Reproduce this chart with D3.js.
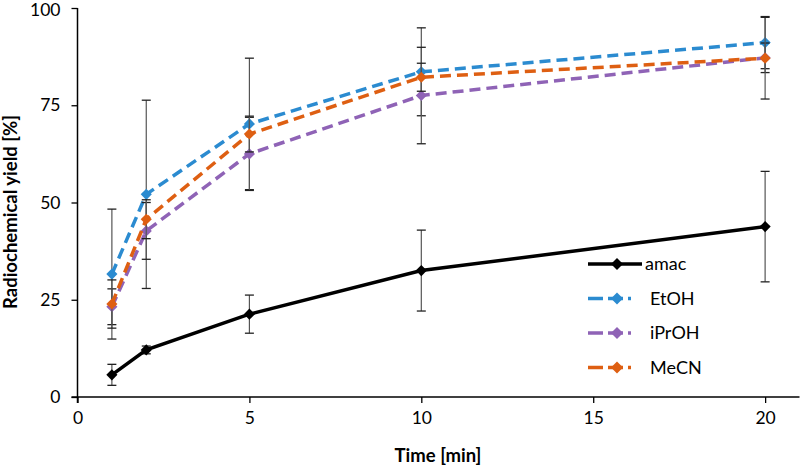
<!DOCTYPE html>
<html lang="en">
<head>
  <meta charset="UTF-8">
  <title>Radiochemical yield vs time</title>
  <script src="https://d3js.org/d3.v7.min.js"></script>
  <style>
    body { margin: 0; background: #fff; }
    svg { font-family: Lato, "Open Sans", sans-serif; display: block; }
  </style>
</head>
<body>
  <svg width="800" height="468"></svg>
  <script>
    const times = [1, 2, 5, 10, 20];
    const seriesNames = ["amac", "EtOH", "iPrOH", "MeCN"];
    const amacYield = [5.7, 12.1, 21.3, 32.5, 43.8];
    const amacErr = [2.7, 1.0, 4.9, 10.4, 14.2];
    const etohYield = [31.6, 52.1, 70.2, 83.6, 91.1];
    const etohErr = [16.7, 24.2, 16.9, 11.3, 6.7];
    const iprohYield = [23.2, 42.7, 62.5, 77.5, 87.2];
    const iprohErr = [4.6, 7.3, 9.4, 12.4, 3.8];
    const mecnYield = [23.9, 45.7, 67.6, 82.2, 87.1];
    const mecnErr = [6.2, 5.0, 4.6, 3.6, 10.5];
    const xTicks = [0, 5, 10, 15, 20];
    const yTicks = [0, 25, 50, 75, 100];

    const colors = { amac: "#000000", EtOH: "#2b8bd0", iPrOH: "#8f63b6", MeCN: "#de5f12" };
    const dashed = { amac: false, EtOH: true, iPrOH: true, MeCN: true };

    const series = [
      { name: "amac", values: amacYield, errs: amacErr },
      { name: "EtOH", values: etohYield, errs: etohErr },
      { name: "iPrOH", values: iprohYield, errs: iprohErr },
      { name: "MeCN", values: mecnYield, errs: mecnErr }
    ];

    const svg = d3.select("svg");

    const x = d3.scaleLinear().domain([0, 21]).range([77.5, 799.5]);
    const y = d3.scaleLinear().domain([0, 100]).range([397, 8]);

    // axes
    const xAxis = svg.append("g")
      .attr("transform", `translate(0,${y(0)})`)
      .call(d3.axisBottom(x).tickValues(xTicks).tickSize(6).tickPadding(9).tickSizeOuter(0));
    const yAxis = svg.append("g")
      .attr("transform", `translate(${x(0)},0)`)
      .call(d3.axisLeft(y).tickValues(yTicks).tickSize(6).tickPadding(11).tickSizeOuter(0));

    [xAxis, yAxis].forEach(g => {
      g.select(".domain").attr("stroke", "#000").attr("stroke-width", 1.5);
      g.selectAll(".tick line").attr("stroke", "#000").attr("stroke-width", 1.3);
      g.selectAll(".tick text").attr("fill", "#000").style("font-size", "17.5px")
        .style("font-family", "Lato, sans-serif");
    });
    // keep the top label inside the picture
    yAxis.selectAll(".tick text").filter(d => d === 100).attr("dy", "0.45em");
    // y axis continues a little below the x axis
    yAxis.select(".domain").attr("d", `M0,${y(100)}V${y(0) + 6}`);
    xAxis.select(".domain").attr("d", `M${x(0) - 6},0H${x(21)}`);

    // axis titles
    svg.append("text")
      .attr("x", 438).attr("y", 462)
      .attr("text-anchor", "middle")
      .style("font-size", "18.5px").style("font-weight", "bold")
      .text("Time [min]");
    svg.append("text")
      .attr("transform", "translate(17,212) rotate(-90)")
      .attr("text-anchor", "middle")
      .style("font-size", "18.5px").style("font-weight", "bold")
      .text("Radiochemical yield [%]");

    const line = d3.line().x((d, i) => x(times[i])).y(d => y(d));
    const diamond = d3.symbol(d3.symbolSquare, 62);
    const legendDiamond = d3.symbol(d3.symbolSquare, 72);

    series.forEach(s => {
      const g = svg.append("g");

      // error bars
      const eb = g.selectAll(".err").data(s.values).join("g").attr("class", "err");
      eb.append("line")
        .attr("x1", (d, i) => x(times[i])).attr("x2", (d, i) => x(times[i]))
        .attr("y1", (d, i) => y(d + s.errs[i])).attr("y2", (d, i) => y(d - s.errs[i]))
        .attr("stroke", "#555").attr("stroke-width", 1.2);
      eb.append("line")
        .attr("x1", (d, i) => x(times[i]) - 4.5).attr("x2", (d, i) => x(times[i]) + 4.5)
        .attr("y1", (d, i) => y(d + s.errs[i])).attr("y2", (d, i) => y(d + s.errs[i]))
        .attr("stroke", "#222").attr("stroke-width", 1.3);
      eb.append("line")
        .attr("x1", (d, i) => x(times[i]) - 4.5).attr("x2", (d, i) => x(times[i]) + 4.5)
        .attr("y1", (d, i) => y(d - s.errs[i])).attr("y2", (d, i) => y(d - s.errs[i]))
        .attr("stroke", "#222").attr("stroke-width", 1.3);

      g.append("path")
        .attr("d", line(s.values))
        .attr("fill", "none")
        .attr("stroke", colors[s.name])
        .attr("stroke-width", 3.5)
        .attr("stroke-dasharray", dashed[s.name] ? "11,6" : null);

      g.selectAll(".pt").data(s.values).join("path")
        .attr("class", "pt")
        .attr("d", diamond)
        .attr("transform", (d, i) => `translate(${x(times[i])},${y(d)}) rotate(45)`)
        .attr("fill", colors[s.name]);
    });

    // legend
    const legend = svg.append("g");
    seriesNames.forEach((name, i) => {
      const ly = 264 + i * 34.5;
      legend.append("line")
        .attr("x1", 588).attr("x2", dashed[name] ? 631 : 642)
        .attr("y1", ly).attr("y2", ly)
        .attr("stroke", colors[name]).attr("stroke-width", 3.5)
        .attr("stroke-dasharray", dashed[name] ? "15,5" : null);
      legend.append("path")
        .attr("d", legendDiamond)
        .attr("transform", `translate(617,${ly}) rotate(45)`)
        .attr("fill", colors[name]);
      legend.append("text")
        .attr("x", dashed[name] ? 650 : 645).attr("y", ly)
        .attr("dy", "0.35em")
        .style("font-size", "18px")
        .text(name);
    });
  </script>
</body>
</html>
